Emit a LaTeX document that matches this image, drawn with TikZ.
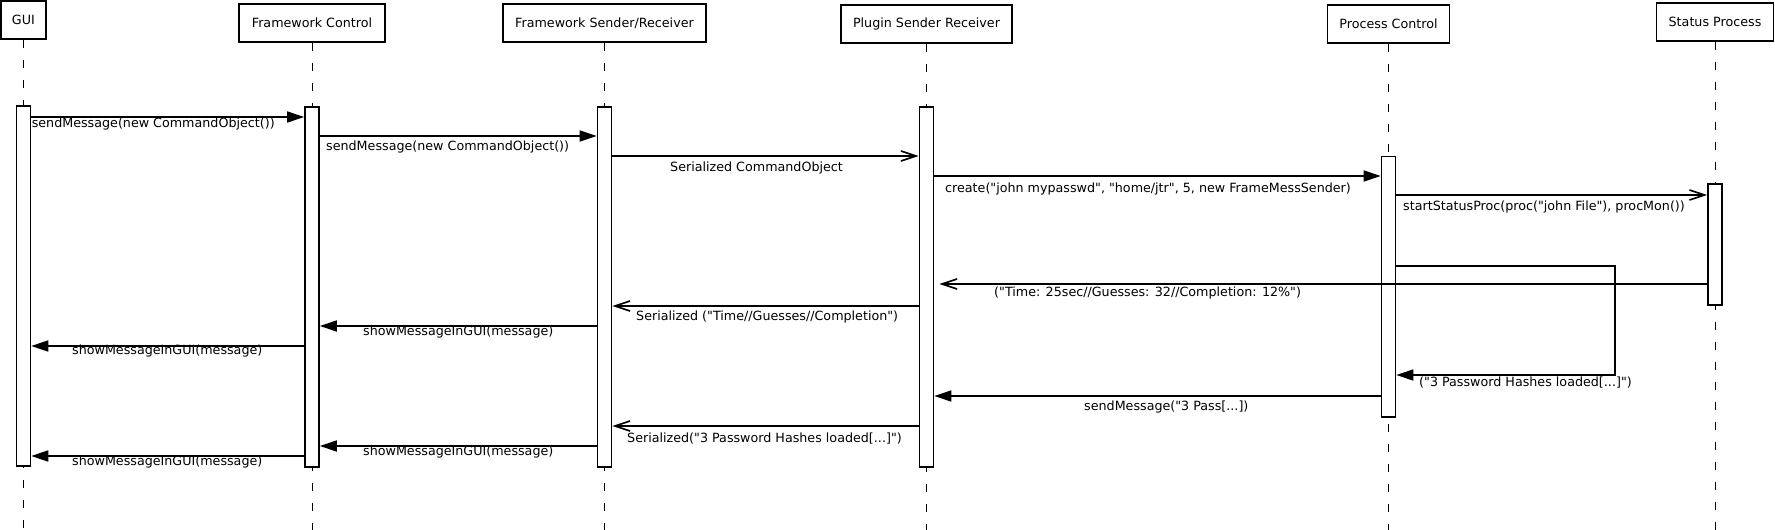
\documentclass[tikz,border=0pt]{standalone}
\usepackage{fontspec}
\newfontfamily\umlfont{DejaVu Sans}
\usepackage{tikz}
\usetikzlibrary{arrows.meta}

\begin{document}
\begin{tikzpicture}[x=1pt, y=-1pt,
    obj/.style={draw, line width=1.8pt, inner sep=0pt, minimum height=38pt,
      font=\umlfont\fontsize{12.7}{14}\selectfont},
    bar/.style={draw, fill=white, line width=1.7pt, minimum width=14pt,
      inner sep=0pt, anchor=north},
    life/.style={line width=1pt, dash pattern=on 8pt off 12pt},
    call/.style={line width=1.7pt, -{Triangle[length=17pt,width=11pt]}},
    reply/.style={line width=1.7pt, -{Straight Barb[length=15pt,width=10pt]}},
    lbl/.style={anchor=west, inner sep=0pt, font=\umlfont\fontsize{12.7}{14}\selectfont}]

  \useasboundingbox (0,0) rectangle (1775,530);

  % the objects:
  \node[obj, minimum width=45pt] (gui) at (23.4,20) {GUI};
  \node[obj, minimum width=146pt] (fc) at (312,23) {Framework Control};
  \node[obj, minimum width=203pt] (fsr) at (604.5,23) {Framework Sender/Receiver};
  \node[obj, minimum width=171pt] (psr) at (926.5,23.8) {Plugin Sender Receiver};
  \node[obj, minimum width=122pt] (pc) at (1388.5,24) {Process Control};
  \node[obj, minimum width=117pt] (sp) at (1715,21.7) {Status Process};

  % lifelines:
  \draw[life] (gui.south) -- (gui.south |- 0,530);
  \draw[life] (fc.south) -- (fc.south |- 0,530);
  \draw[life] (fsr.south) -- (fsr.south |- 0,530);
  \draw[life] (psr.south) -- (psr.south |- 0,530);
  \draw[life] (pc.south) -- (pc.south |- 0,530);
  \draw[life] (sp.south) -- (sp.south |- 0,530);

  % activations:
  \node[bar, minimum height=360pt] (agui) at (gui.south |- 0,105) {};
  \node[bar, minimum height=360pt] (afc) at (fc.south |- 0,106) {};
  \node[bar, minimum height=360pt] (afsr) at (fsr.south |- 0,106) {};
  \node[bar, minimum height=360pt] (apsr) at (psr.south |- 0,106) {};
  \node[bar, minimum height=260.5pt] (apc) at (pc.south |- 0,155.5) {};
  \node[bar, minimum height=120.7pt] (asp) at (sp.south |- 0,183.3) {};

  % messages going right:
  \draw[call] (agui.east |- 0,117) -- (afc.west |- 0,117);
  \node[lbl] (t1) at (31.6,124) {sendMessage(new CommandObject())};
  \draw[call] (afc.east |- 0,136) -- (afsr.west |- 0,136);
  \node[lbl] (t2) at (326,147) {sendMessage(new CommandObject())};
  \draw[reply] (afsr.east |- 0,156) -- (apsr.west |- 0,156);
  \node[lbl] (t3) at (670,167.7) {Serialized CommandObject};
  \draw[call] (apsr.east |- 0,176) -- (apc.west |- 0,176);
  \node[lbl] (t4) at (945,189) {create("john mypasswd", "home/jtr", 5, new FrameMessSender)};
  \draw[reply] (apc.east |- 0,195) -- (asp.west |- 0,195);
  \node[lbl] (t5) at (1403,207.3) {startStatusProc(proc("john File"), procMon())};

  % self call on process control:
  \coordinate (turn) at (1614.7,320);
  \draw[call] (apc.east |- 0,266) -| (turn) |- (apc.east |- 0,375);
  \node[lbl] (t6) at (1419,382.7) {("3 Password Hashes loaded[...]")};

  % messages going back:
  \draw[reply, shorten >=5pt] (asp.west |- 0,284) -- (apsr.east |- 0,284);
  \node[lbl] (t7) at (994,293) {("Time: 25sec//Guesses: 32//Completion: 12\%")};
  \draw[reply] (apsr.west |- 0,306) -- (afsr.east |- 0,306);
  \node[lbl] (t8) at (636,317.3) {Serialized ("Time//Guesses//Completion")};
  \draw[call] (afsr.west |- 0,326) -- (afc.east |- 0,326);
  \node[lbl] (t9) at (363,331.7) {showMessageInGUI(message)};
  \draw[call] (afc.west |- 0,346) -- (agui.east |- 0,346);
  \node[lbl] (t10) at (72,351.3) {showMessageInGUI(message)};
  \draw[call] (apc.west |- 0,396) -- (apsr.east |- 0,396);
  \node[lbl] (t11) at (1084,406.5) {sendMessage("3 Pass[...])};
  \draw[reply] (apsr.west |- 0,426) -- (afsr.east |- 0,426);
  \node[lbl] (t12) at (627,438.3) {Serialized("3 Password Hashes loaded[...]")};
  \draw[call] (afsr.west |- 0,446) -- (afc.east |- 0,446);
  \node[lbl] (t13) at (363,451.7) {showMessageInGUI(message)};
  \draw[call] (afc.west |- 0,456) -- (agui.east |- 0,456);
  \node[lbl] (t14) at (72,461.7) {showMessageInGUI(message)};

\end{tikzpicture}
\end{document}
